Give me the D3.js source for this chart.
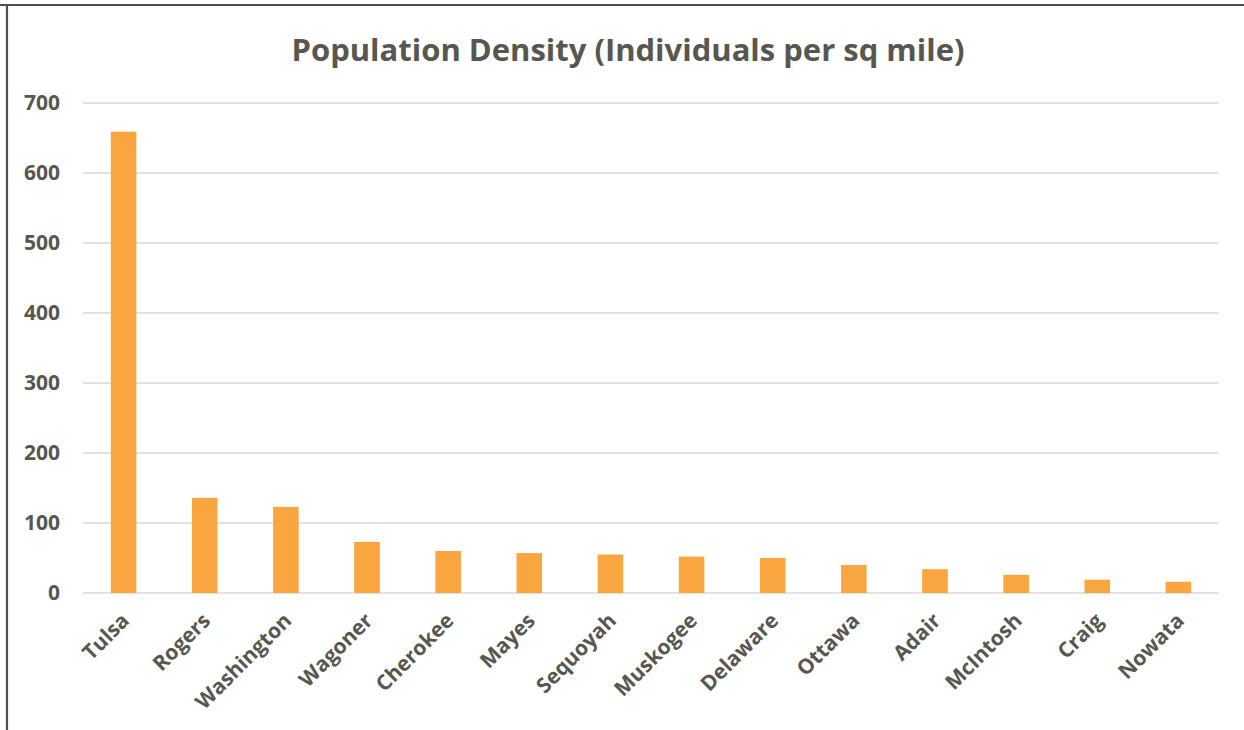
<!DOCTYPE html>
<html>
<head>
<meta charset="utf-8">
<script src="https://cdn.jsdelivr.net/npm/d3@7"></script>
<style>
  body { margin: 0; background: #fff; }
  text { font-family: "Open Sans", "DejaVu Sans", sans-serif; font-weight: bold; fill: #57574f; }
</style>
</head>
<body>
<div id="chart"></div>
<script>
// chart data
var counties = ['Tulsa', 'Rogers', 'Washington', 'Wagoner', 'Cherokee', 'Mayes', 'Sequoyah',
  'Muskogee', 'Delaware', 'Ottawa', 'Adair', 'McIntosh', 'Craig', 'Nowata'];
var density = [659, 136, 123, 73, 60, 57, 55, 52, 50, 40, 34, 26, 19, 16];
var yTicks = [0, 100, 200, 300, 400, 500, 600, 700];
var chartTitle = 'Population Density (Individuals per sq mile)';

var svgWidth = 1244;
var svgHeight = 730;

var margin = { top: 103, right: 25, bottom: 137, left: 83 };
var width = svgWidth - margin.left - margin.right;
var height = svgHeight - margin.top - margin.bottom;

var svg = d3.select('#chart').append('svg')
  .attr('width', svgWidth)
  .attr('height', svgHeight);

// outer frame (top and left edges visible)
svg.append('line')
  .attr('x1', 0).attr('x2', svgWidth)
  .attr('y1', 5).attr('y2', 5)
  .attr('stroke', '#4f4f47').attr('stroke-width', 2.2);
svg.append('line')
  .attr('x1', 7).attr('x2', 7)
  .attr('y1', 4).attr('y2', svgHeight)
  .attr('stroke', '#4f4f47').attr('stroke-width', 2.2);

// title
svg.append('text')
  .attr('x', 628)
  .attr('y', 61)
  .attr('text-anchor', 'middle')
  .attr('font-size', '31px')
  .attr('textLength', 673)
  .attr('lengthAdjust', 'spacingAndGlyphs')
  .text(chartTitle);

var chartGroup = svg.append('g')
  .attr('transform', `translate(${margin.left}, ${margin.top})`);

var xScale = d3.scaleBand()
  .domain(counties)
  .range([0, width])
  .padding(0);

var yScale = d3.scaleLinear()
  .domain([0, 700])
  .range([height, 0]);

// gridlines
chartGroup.append('g')
  .selectAll('line')
  .data(yTicks)
  .enter()
  .append('line')
  .attr('x1', 0)
  .attr('x2', width)
  .attr('y1', d => yScale(d))
  .attr('y2', d => yScale(d))
  .attr('stroke', '#d9d9d9')
  .attr('stroke-width', 1.5);

// y axis labels
var yAxis = d3.axisLeft(yScale).tickValues(yTicks).tickSize(0).tickPadding(23);
chartGroup.append('g')
  .call(yAxis)
  .call(g => g.select('.domain').remove())
  .selectAll('text')
  .attr('font-size', '21px')
  .attr('font-family', '"Open Sans", sans-serif')
  .attr('font-weight', 'bold')
  .attr('fill', '#57574f');

// bars
var barWidth = xScale.bandwidth() * 0.315;
chartGroup.selectAll('.bar')
  .data(counties)
  .enter()
  .append('rect')
  .classed('bar', true)
  .attr('x', (d, i) => xScale(d) + (xScale.bandwidth() - barWidth) / 2)
  .attr('y', (d, i) => yScale(density[i]))
  .attr('width', barWidth)
  .attr('height', (d, i) => height - yScale(density[i]))
  .attr('fill', '#f9a640');

// x axis labels, rotated
var xAxis = d3.axisBottom(xScale).tickSize(0).tickPadding(0);
chartGroup.append('g')
  .attr('transform', `translate(0, ${height})`)
  .call(xAxis)
  .call(g => g.select('.domain').remove())
  .selectAll('text')
  .attr('font-size', '21px')
  .attr('font-family', '"Open Sans", sans-serif')
  .attr('font-weight', 'bold')
  .attr('fill', '#57574f')
  .attr('text-anchor', 'end')
  .attr('dy', 0)
  .attr('transform', 'translate(7, 29) rotate(-45)');
</script>
</body>
</html>
